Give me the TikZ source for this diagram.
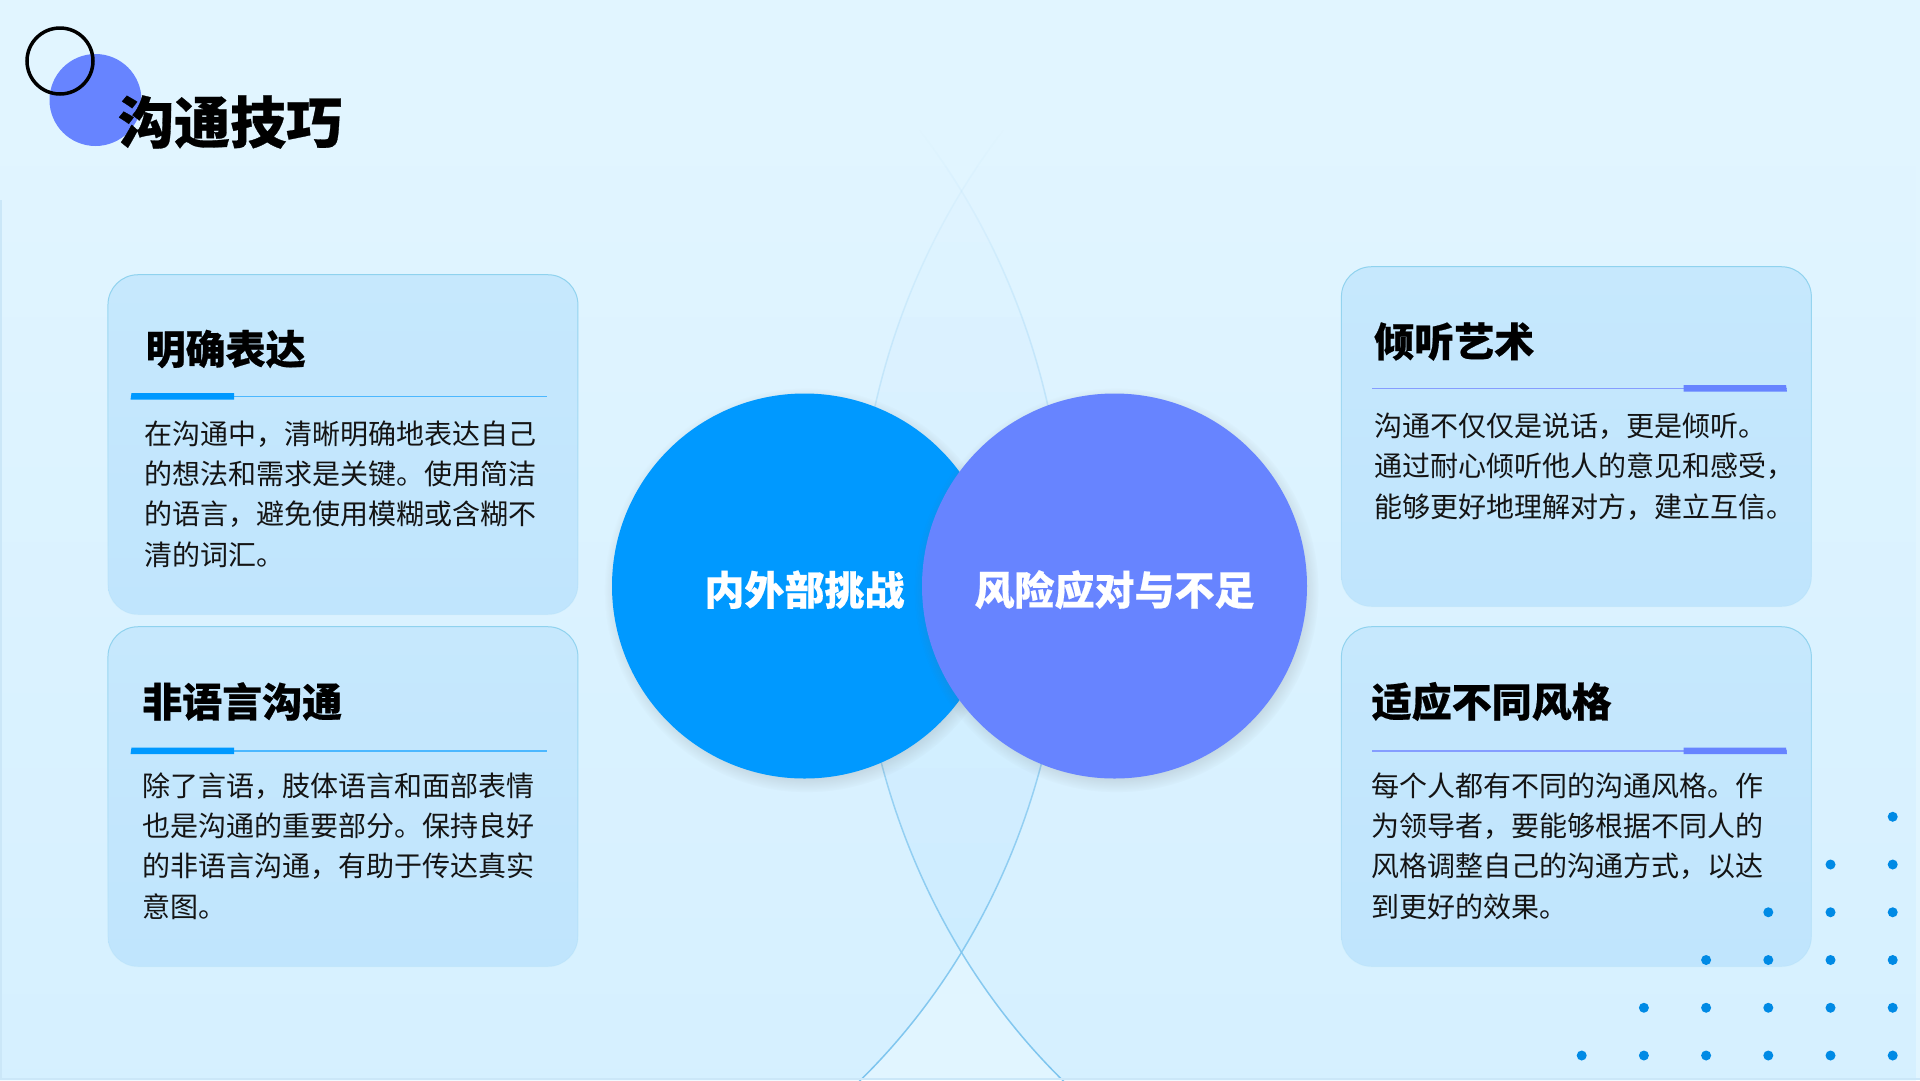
\documentclass[tikz,border=0pt]{standalone}
\usepackage{fontspec}
\setmainfont{Noto Sans CJK SC}
\newfontfamily\headfont[BoldFeatures={FakeBold=0.5}]{Noto Sans CJK SC}
\usetikzlibrary{fadings,shadows}

\definecolor{pagebg}{HTML}{E1F5FF}
\definecolor{skyblue}{HTML}{0099FF}
\definecolor{violetblue}{HTML}{6784FF}
\definecolor{arcblue}{HTML}{7CC4EE}
\definecolor{cardtop}{HTML}{C6E8FD}
\definecolor{cardbottom}{HTML}{C0E5FD}
\definecolor{cardedge}{HTML}{8FD2EE}

\tikzfading[name=lensfade, top color=transparent!100, bottom color=transparent!95]
\tikzfading[name=arcfade, top color=transparent!100, bottom color=transparent!0]
\tikzfading[name=edgefade, top color=transparent!0, bottom color=transparent!90]

\tikzset{
	card/.style={rounded corners=30pt, minimum width=470pt, minimum height=340pt, inner sep=0pt, top color=cardtop, bottom color=cardbottom, postaction={draw=cardedge, line width=1pt, path fading=edgefade}},
	cardtitle/.style={anchor=west, inner sep=0pt, font=\fontsize{40}{48}\selectfont\headfont\bfseries},
	cardbody/.style={anchor=west, inner sep=0pt, align=left, text=black!92, font=\fontsize{28}{40.4}\selectfont},
	bigcircle/.style={circle, minimum size=385pt, inner sep=0pt, text=white, font=\fontsize{40}{48}\selectfont\headfont\bfseries, circular drop shadow={shadow xshift=2pt, shadow yshift=-4pt, shadow scale=1.05, opacity=.35, fill=black!60}},
	arcline/.style={draw=arcblue, line width=1.5pt, path fading=arcfade},
	bluerule/.style={draw=skyblue!70, line width=1.5pt},
	violetrule/.style={draw=violetblue!80, line width=1.5pt}
}

\begin{document}
\begin{tikzpicture}[x=1pt, y=-1pt]
	\useasboundingbox (0,0) rectangle (1920,1080);
	\clip (0,0) rectangle (1920,1080);
	\fill[pagebg] (0,0) rectangle (1920,1080);

	\begin{scope}
		\clip (454,571) ++(49:613 and 680.5) arc[start angle=49, end angle=-41, x radius=613, y radius=680.5] -- (-5,130) -- (-5,1090) -- cycle;
		\fill[skyblue, path fading=lensfade] (0,130) rectangle (1920,1085);
	\end{scope}
	\begin{scope}
		\clip (1470,571) ++(131:613 and 680.5) arc[start angle=131, end angle=221, x radius=613, y radius=680.5] -- (1925,130) -- (1925,1090) -- cycle;
		\fill[skyblue, path fading=lensfade] (0,130) rectangle (1920,1085);
	\end{scope}
	\draw[arcline] (1470,571) ++(131:613 and 680.5) arc[start angle=131, end angle=220.5, x radius=613, y radius=680.5];
	\draw[arcline] (454,571) ++(49:613 and 680.5) arc[start angle=49, end angle=-40.5, x radius=613, y radius=680.5];
	\draw[draw=arcblue!40, line width=2pt] (1,200) -- (1,1079) -- (1920,1079);

	\fill[violetblue] (95.5,100) circle[radius=46];
	\draw[black, line width=3.5pt] (60,61) circle[radius=33];
	\node[anchor=west, inner sep=0pt, font=\fontsize{56}{64}\selectfont\headfont\bfseries] (maintitle) at (118,122) {沟通技巧};

	\node[card] (cardclear) at (343,444.5) {};
	\node[cardtitle] (clearhead) at (145.5,349) {明确表达};
	\draw[bluerule] (130.5,396.5) -- (546.5,396.5);
	\fill[skyblue] (131.5,393) -- (234,393) -- (234,399.7) -- (130.5,399.7) -- cycle;
	\node[cardbody] (clearbody) at (144.5,494) {在沟通中，清晰明确地表达自己\\的想法和需求是关键。使用简洁\\的语言，避免使用模糊或含糊不\\清的词汇。};

	\node[card] (cardsilent) at (343,796.5) {};
	\node[cardtitle] (silenthead) at (142,701.5) {非语言沟通};
	\draw[bluerule] (130.5,751) -- (546.5,751);
	\fill[skyblue] (131.5,747.5) -- (234,747.5) -- (234,754.2) -- (130.5,754.2) -- cycle;
	\node[cardbody] (silentbody) at (142,846) {除了言语，肢体语言和面部表情\\也是沟通的重要部分。保持良好\\的非语言沟通，有助于传达真实\\意图。};

	\node[card] (cardlisten) at (1576.5,436.5) {};
	\node[cardtitle] (listenhead) at (1374,341.5) {倾听艺术};
	\draw[violetrule] (1372,388.5) -- (1787,388.5);
	\fill[violetblue] (1683.5,385) -- (1786,385) -- (1787,391.7) -- (1683.5,391.7) -- cycle;
	\node[cardbody] (listenbody) at (1374,466.5) {沟通不仅仅是说话，更是倾听。\\通过耐心倾听他人的意见和感受，\\能够更好地理解对方，建立互信。};

	\node[card] (cardstyle) at (1576.5,796.5) {};
	\node[cardtitle] (stylehead) at (1371.5,701.5) {适应不同风格};
	\draw[violetrule] (1372,751) -- (1787,751);
	\fill[violetblue] (1683.5,747.5) -- (1786,747.5) -- (1787,754.2) -- (1683.5,754.2) -- cycle;
	\node[cardbody] (stylebody) at (1371.5,846) {每个人都有不同的沟通风格。作\\为领导者，要能够根据不同人的\\风格调整自己的沟通方式，以达\\到更好的效果。};

	\node[bigcircle, fill=skyblue] (inner) at (804.5,586) {\raisebox{-19pt}[0pt][0pt]{内外部挑战}};
	\node[bigcircle, fill=violetblue] (outer) at (1114.5,586) {\raisebox{-19pt}[0pt][0pt]{风险应对与不足}};

	\foreach \row in {1,...,6}
		\foreach \col in {1,...,\row}
			\fill[skyblue!90!black] ({1892.7-62.2*(\col-1)},{769+47.75*\row}) circle[radius=5];
\end{tikzpicture}
\end{document}
